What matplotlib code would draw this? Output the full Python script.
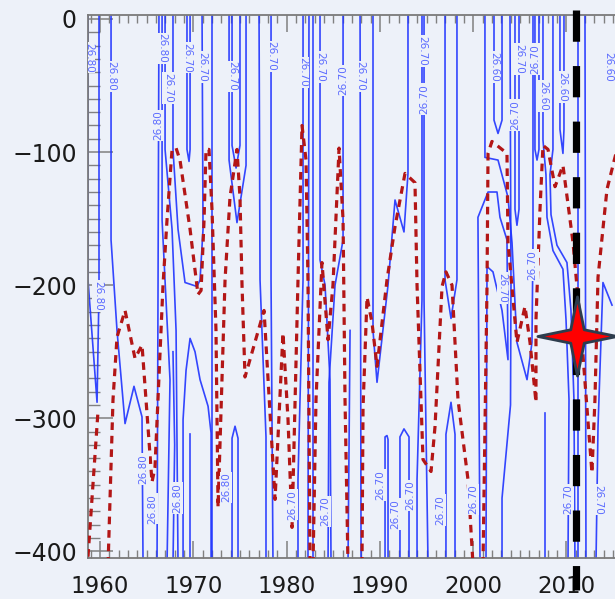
import matplotlib
matplotlib.use("Agg")
import matplotlib.pyplot as plt
import numpy as np
from matplotlib.path import Path

plt.rcParams["font.family"] = ["DejaVu Sans"]
plt.rcParams["lines.scale_dashes"] = False

# ---------------- data (year, depth in m) ----------------
# isopycnal contour lines (sigma-theta 26.6 / 26.7 / 26.8)
iso_01 = [(1958.71, 10), (1958.71, -196), (1959.68, -288), (1959.89, -204), (1959.89, 10)]
iso_02 = [(1961.18, 10), (1961.18, -166), (1961.82, -234), (1962.68, -304), (1963.64, -276), (1964.50, -299), (1964.61, -410)]
iso_03 = [(1966.32, 10), (1966.22, -196), (1966.11, -410)]
iso_04 = [(1966.65, 10), (1966.65, -151), (1967.07, -211), (1967.50, -271), (1967.18, -410)]
iso_05 = [(1966.97, 10), (1966.97, -98), (1967.72, -158), (1968.15, -234), (1968.36, -410)]
iso_06 = [(1967.82, 10), (1967.82, -98), (1968.36, -158), (1969.11, -198), (1970.40, -201), (1970.72, -196), (1971.04, -158), (1970.93, 10)]
iso_07 = [(1969.32, 10), (1969.32, -98), (1969.54, -107), (1969.65, -98), (1969.65, 10)]
iso_08 = [(1972.00, 10), (1972.00, -410)]
iso_09 = [(1968.90, -410), (1968.90, -301), (1969.22, -264), (1969.65, -240), (1970.18, -250), (1970.72, -271), (1971.58, -291), (1971.90, -311), (1971.90, -410)]
iso_10 = [(1969.65, -410), (1969.65, -312)]
iso_11 = [(1974.15, -410), (1974.15, -315), (1974.47, -306), (1974.79, -315), (1974.79, -410)]
iso_12 = [(1973.83, 10), (1973.83, -106), (1974.68, -153), (1975.65, -110), (1975.65, 10)]
iso_13 = [(1974.15, 10), (1974.15, -95), (1974.58, -112), (1975.00, -95), (1975.00, 10)]
iso_14 = [(1977.04, 10), (1977.15, -196), (1977.79, -314), (1977.79, -410)]
iso_15 = [(1978.33, 10), (1978.33, -196), (1978.54, -410)]
iso_16 = [(1981.76, 10), (1981.76, -196), (1981.22, -346), (1981.22, -410)]
iso_17 = [(1982.40, 10), (1982.29, -410)]
iso_18 = [(1982.83, 10), (1982.83, -410)]
iso_19 = [(1983.58, 10), (1983.58, -181), (1984.12, -200), (1984.65, -271), (1984.76, -410)]
iso_20 = [(1986.05, 10), (1986.05, -166), (1985.19, -200), (1984.54, -273), (1984.44, -410)]
iso_21 = [(1986.80, -234), (1986.58, -410)]
iso_22 = [(1987.87, 10), (1987.98, -410)]
iso_23 = [(1989.26, 10), (1989.26, -234), (1989.69, -273), (1990.87, -200), (1991.62, -136), (1992.58, -160), (1993.01, -116), (1993.01, 10)]
iso_24 = [(1990.55, -410), (1990.55, -314), (1990.76, -313), (1990.87, -316), (1990.87, -410)]
iso_25 = [(1992.15, -410), (1992.15, -314), (1992.58, -308), (1993.12, -314), (1993.12, -410)]
iso_26 = [(1994.51, 10), (1994.51, -211), (1993.98, -346), (1993.98, -410)]
iso_27 = [(1994.73, 10), (1994.73, -211), (1995.16, -410)]
iso_28 = [(1996.98, 10), (1996.98, -196), (1997.62, -225), (1998.26, -196), (1998.26, 10)]
iso_29 = [(1997.08, -410), (1997.08, -312), (1997.62, -288), (1998.05, -312), (1998.05, -410)]
iso_30 = [(2000.73, -410), (2000.51, -149), (2001.59, -130), (2002.55, -130), (2002.87, -149), (2003.62, -166), (2003.73, -256), (2003.09, -219), (2002.12, -190), (2001.48, -186), (2001.37, -410)]
iso_31 = [(2001.26, 10), (2001.26, -104), (2002.66, -106), (2003.73, -134), (2004.16, -168), (2004.69, -243), (2005.77, -271), (2006.30, -243), (2006.41, -168), (2006.41, 10)]
iso_32 = [(2002.23, 10), (2002.23, -76), (2002.66, -86), (2003.09, -76), (2003.09, 10)]
iso_33 = [(2003.94, 10), (2004.05, -200), (2004.00, -290), (2003.09, -360), (2003.09, -410)]
iso_34 = [(2004.48, 10), (2004.48, -143), (2004.69, -155), (2004.91, -143), (2004.91, 10)]
iso_35 = [(2007.48, 10), (2007.48, -91), (2007.80, -117), (2007.91, -149), (2008.55, -174), (2009.62, -188), (2009.95, -226), (2010.27, -286), (2010.16, -410)]
iso_36 = [(2006.62, 10), (2006.62, -98), (2006.84, -106), (2007.05, -98), (2007.05, 10)]
iso_37 = [(2008.55, 10), (2008.55, -98), (2008.23, -117), (2008.34, -147), (2008.98, -170), (2010.05, -183), (2010.48, -219), (2010.80, -286), (2010.91, -410)]
iso_38 = [(2009.30, 10), (2009.30, -83), (2009.62, -101), (2009.73, -83), (2009.73, 10)]
iso_39 = [(2011.23, 10), (2011.23, -410)]
iso_40 = [(2011.98, 10), (2012.09, -410)]
iso_41 = [(2007.70, -410), (2007.70, -296)]
iso_42 = [(2014.88, -215), (2013.91, -198), (2013.38, -306), (2013.16, -410)]
iso_43 = [(1967.82, -250), (1968.00, -320), (1967.82, -410)]

# second quantity: red dashed contour
red_01 = [(1958.71, -404), (1959.79, -294)]
red_02 = [(1960.86, -410), (1961.39, -286), (1961.82, -239), (1962.68, -219), (1963.75, -255), (1964.50, -245),
          (1965.57, -348), (1965.89, -337), (1966.75, -200), (1967.18, -151), (1967.72, -98), (1968.15, -97),
          (1968.57, -106), (1969.65, -158), (1970.50, -207), (1970.83, -204), (1971.15, -151), (1971.36, -98),
          (1971.68, -98), (1972.00, -143), (1972.43, -234), (1972.65, -367), (1973.40, -196), (1973.93, -134),
          (1974.68, -98), (1975.00, -134), (1975.22, -200), (1975.54, -269), (1977.58, -219), (1978.76, -361),
          (1979.61, -236), (1980.15, -301), (1980.58, -382), (1981.22, -196), (1981.65, -80), (1982.08, -106),
          (1982.29, -196), (1982.51, -410)]
red_03 = [(1982.83, -410), (1983.15, -286), (1983.79, -183), (1984.44, -241), (1984.97, -200), (1985.62, -97),
          (1986.05, -151), (1986.26, -286), (1986.58, -410)]
red_04 = [(1988.08, -410), (1988.19, -292), (1988.62, -209), (1989.15, -228), (1989.69, -261), (1990.76, -196),
          (1991.62, -156), (1992.69, -116), (1993.76, -123), (1993.98, -200), (1994.62, -331), (1995.48, -340),
          (1995.91, -306), (1996.66, -201), (1997.08, -190), (1997.73, -200), (1998.37, -286), (1999.44, -346),
          (1999.98, -410)]
red_05 = [(2001.05, -410), (2001.48, -201), (2001.59, -101), (2002.01, -92), (2002.55, -95), (2003.62, -101),
          (2003.73, -168), (2004.69, -243), (2005.55, -216), (2006.09, -243), (2006.73, -288), (2006.73, -226),
          (2007.16, -143), (2007.48, -95), (2008.02, -98), (2008.77, -126), (2009.62, -110), (2010.70, -168),
          (2011.66, -243), (2012.52, -322), (2012.73, -341), (2013.05, -286), (2013.38, -194), (2014.34, -128),
          (2015.41, -98)]

# contour labels: (year, depth, text, rotation)
contour_labels = [
    (1958.82, -29, "26.80", -90), (1961.18, -43, "26.80", -90), (1966.22, -80, "26.80", 90),
    (1966.65, -22, "26.80", -90), (1967.29, -52, "26.70", -90), (1969.32, -29, "26.70", -90),
    (1970.93, -36, "26.70", -90), (1974.15, -43, "26.70", -90), (1978.33, -28, "26.70", -90),
    (1981.76, -40, "26.70", -90), (1983.58, -36, "26.70", -90), (1986.05, -46, "26.70", 90),
    (1987.87, -43, "26.70", -90), (1994.51, -24, "26.70", -90), (1994.73, -60, "26.70", 90),
    (2002.23, -36, "26.60", -90), (2004.48, -72, "26.70", 90), (2004.91, -30, "26.70", -90),
    (2006.62, -30, "26.70", 90), (2007.48, -58, "26.60", -90), (2009.52, -51, "26.60", -90),
    (2014.45, -36, "26.60", -90),
    (1959.80, -208, "26.80", -90), (2003.15, -202, "26.70", -90), (2006.38, -185, "26.70", 90),
    (1964.61, -338, "26.80", 90), (1965.57, -368, "26.80", 90), (1968.25, -360, "26.80", 90),
    (1973.50, -352, "26.80", 90), (1980.58, -365, "26.70", 90), (1984.12, -370, "26.70", 90),
    (1990.01, -350, "26.70", 90), (1991.62, -372, "26.70", 90), (1993.23, -358, "26.70", 90),
    (1996.44, -369, "26.70", 90), (1999.98, -361, "26.70", 90), (2010.16, -361, "26.70", 90),
    (2013.38, -361, "26.70", -90),
]

event_year = 2011.05
event_span = (7, -429)
star_point = (2011.1, -238)

x_major = [1960, 1970, 1980, 1990, 2000, 2010]
y_major = [0, -100, -200, -300, -400]

iso_lines = [iso_01, iso_02, iso_03, iso_04, iso_05, iso_06, iso_07, iso_08, iso_09, iso_10,
             iso_11, iso_12, iso_13, iso_14, iso_15, iso_16, iso_17, iso_18, iso_19, iso_20,
             iso_21, iso_22, iso_23, iso_24, iso_25, iso_26, iso_27, iso_28, iso_29, iso_30,
             iso_31, iso_32, iso_33, iso_34, iso_35, iso_36, iso_37, iso_38, iso_39, iso_40,
             iso_41, iso_42, iso_43]
red_lines = [red_01, red_02, red_03, red_04, red_05]

# ---------------- drawing ----------------
BG = "#edf1f9"
fig = plt.figure(figsize=(6.15, 5.99), dpi=100, facecolor=BG)
ax = fig.add_axes([88 / 615, 1 - 558 / 599, (615 - 88) / 615, (558 - 15) / 599])
ax.set_facecolor(BG)
ax.set_xlim(1958.71, 2015.2)
ax.set_ylim(-405, 3)

for ln in iso_lines:
    xs, ys = zip(*ln)
    ax.plot(xs, ys, color="#1f33ff", lw=1.2, alpha=0.9, zorder=2)

for ln in red_lines:
    xs, ys = zip(*ln)
    ax.plot(xs, ys, color="#b31616", lw=2.3, dashes=(5.5, 4.2), zorder=3)

for x, y, t, r in contour_labels:
    ax.text(x, y, t, rotation=r, ha="center", va="center", fontsize=7.5, color="#5a6aff",
            zorder=4, clip_on=True,
            bbox=dict(boxstyle="square,pad=0.08", fc=BG, ec="none"))

ax.plot([event_year, event_year], list(event_span), color="black", lw=5.2,
        dashes=(22.5, 17.5), zorder=6, clip_on=False, solid_capstyle="butt", dash_capstyle="butt")

r_in = 0.24
angs = np.pi / 2 + np.arange(8) * np.pi / 4
rads = np.where(np.arange(8) % 2 == 0, 1.0, r_in)
verts = np.column_stack([rads * np.cos(angs), rads * np.sin(angs)])
star = Path(np.vstack([verts, verts[:1]]), closed=True)
ax.plot([star_point[0]], [star_point[1]], marker=star, markersize=57, color="red",
        markeredgecolor="#2e3d4d", markeredgewidth=2.0, zorder=7, clip_on=False)

# axes styling
for s in ["left", "bottom", "top"]:
    ax.spines[s].set_color("#7a7a7a")
    ax.spines[s].set_linewidth(1.3)
ax.spines["right"].set_visible(False)

ax.set_xticks(x_major)
ax.set_xticks(np.arange(1959, 2016, 1), minor=True)
ax.set_yticks(y_major)
ax.set_yticks(np.arange(-400, 1, 10), minor=True)
ax.tick_params(axis="x", which="both", direction="in", top=True, bottom=True, colors="#808080",
               labelcolor="#1a1a1a", labelsize=16.5, pad=12)
ax.tick_params(axis="x", which="major", length=12, width=1.1)
ax.tick_params(axis="x", which="minor", length=6, width=1.0)
ax.tick_params(axis="y", which="both", direction="in", left=True, right=False, colors="#808080",
               labelcolor="#1a1a1a", labelsize=17, pad=8)
ax.tick_params(axis="y", which="major", length=18, width=1.1)
ax.tick_params(axis="y", which="minor", length=8.5, width=1.0)

fig.savefig("out.png", dpi=100, facecolor=BG)
